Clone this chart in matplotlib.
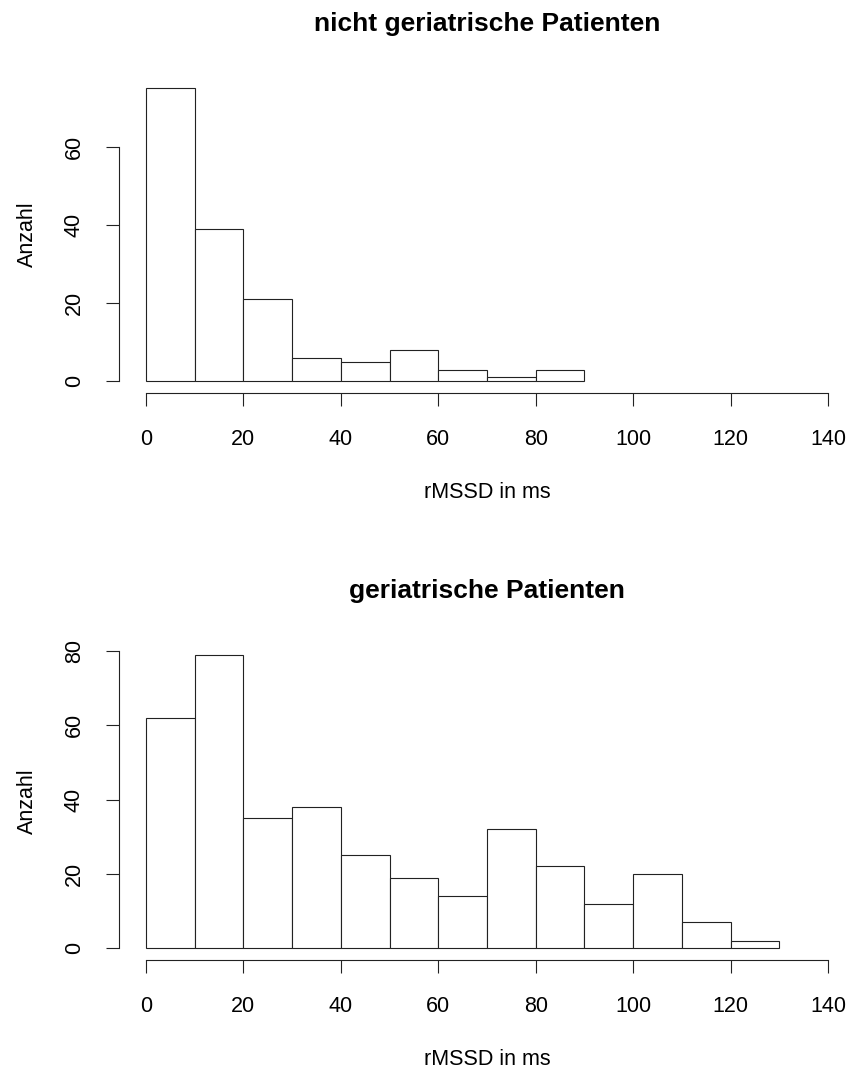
import numpy as np
import matplotlib
matplotlib.use("Agg")
import matplotlib.pyplot as plt

plt.rcParams['font.family'] = ['Liberation Sans', 'DejaVu Sans']

# Histogramm-Klassen (10 ms breit) und Haeufigkeiten
edges_nicht = np.arange(0, 100, 10)
counts_nicht = [75, 39, 21, 6, 5, 8, 3, 1, 3]

edges_ger = np.arange(0, 140, 10)
counts_ger = [62, 79, 35, 38, 25, 19, 14, 32, 22, 12, 20, 7, 2]

titles = ["nicht geriatrische Patienten", "geriatrische Patienten"]
x_ticks = list(range(0, 141, 20))
y_ticks_nicht = [0, 20, 40, 60]
y_ticks_ger = [0, 20, 40, 60, 80]

W, H = 850, 1068
fig = plt.figure(figsize=(W / 100, H / 100), dpi=100)

line_col = '#222222'
lw = 0.8


def panel(top_px, bottom_px, edges, counts, yticks, title):
    left_px, right_px = 118.7, 855.3
    ax = fig.add_axes([left_px / W, 1 - bottom_px / H,
                       (right_px - left_px) / W, (bottom_px - top_px) / H])
    ymax = max(counts)
    ax.bar(edges[:-1], counts, width=10, align='edge', facecolor='white',
           edgecolor=line_col, linewidth=lw)
    ax.set_xlim(-5.6, 145.6)
    ax.set_ylim(-0.04 * ymax, 1.04 * ymax)
    for s in ['top', 'right']:
        ax.spines[s].set_visible(False)
    ax.spines['left'].set_bounds(yticks[0], yticks[-1])
    ax.spines['bottom'].set_bounds(0, 140)
    for s in ['left', 'bottom']:
        ax.spines[s].set_color(line_col)
        ax.spines[s].set_linewidth(lw)
    ax.set_xticks(x_ticks)
    ax.set_yticks(yticks)
    ax.tick_params(axis='both', direction='out', length=9.4, width=lw,
                   color=line_col, labelsize=15.5)
    ax.tick_params(axis='x', pad=16.5)
    ax.tick_params(axis='y', pad=15, labelrotation=90)
    for lab in ax.get_yticklabels():
        lab.set_va('center')
    ax.set_xlabel("rMSSD in ms", fontsize=15.5)
    ax.xaxis.set_label_coords(0.5, -0.281)
    ax.set_ylabel("Anzahl", fontsize=15.5)
    ax.yaxis.set_label_coords(-0.110, 0.5)
    ax.set_title(title, fontsize=19, fontweight='bold', pad=32.8)
    return ax


panel(76.3, 393.0, edges_nicht, counts_nicht, y_ticks_nicht, titles[0])
panel(643.1, 959.8, edges_ger, counts_ger, y_ticks_ger, titles[1])

fig.savefig("out.png", dpi=100)
